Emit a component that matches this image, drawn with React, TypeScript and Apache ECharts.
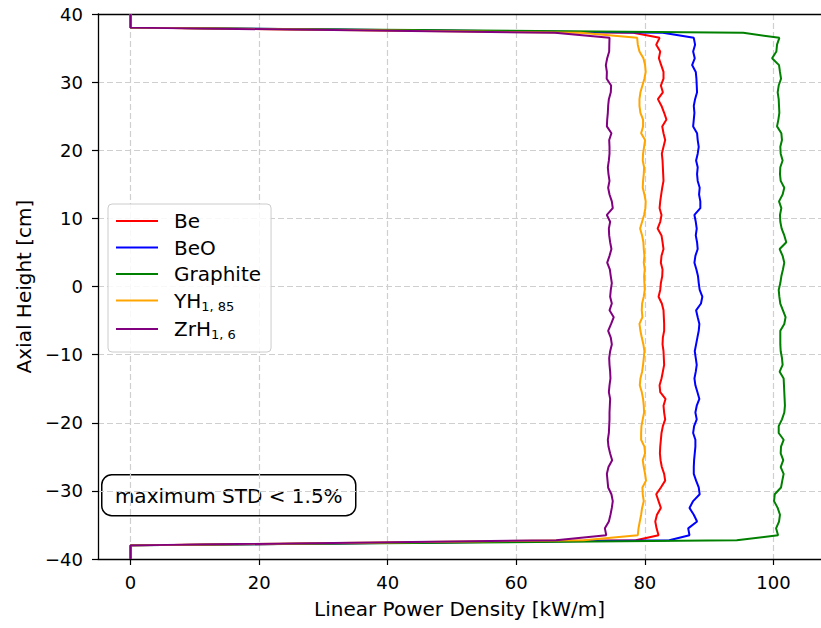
import React, { useEffect, useRef } from "react";
import * as echarts from "echarts";

// Axial mesh (cm), top to bottom
const heights = [
  40, 38, 37.25,
  36.5, 35.5, 34.5, 33.5, 32.5, 31.5, 30.5, 29.5, 28.5, 27.5,
  26.5, 25.5, 24.5, 23.5, 22.5, 21.5, 20.5, 19.5, 18.5, 17.5,
  16.5, 15.5, 14.5, 13.5, 12.5, 11.5, 10.5, 9.5, 8.5, 7.5,
  6.5, 5.5, 4.5, 3.5, 2.5, 1.5, 0.5, -0.5, -1.5, -2.5,
  -3.5, -4.5, -5.5, -6.5, -7.5, -8.5, -9.5, -10.5, -11.5, -12.5,
  -13.5, -14.5, -15.5, -16.5, -17.5, -18.5, -19.5, -20.5, -21.5, -22.5,
  -23.5, -24.5, -25.5, -26.5, -27.5, -28.5, -29.5, -30.5, -31.5, -32.5,
  -33.5, -34.5, -35.5, -36.5,
  -37.25, -38, -40,
];

// Linear power density (kW/m) at each height above
const be = [
  0, 0, 78.2,
  82.29, 81.77, 82.39, 82.18, 82.54, 82.9, 82.9, 82.49, 82.8, 82.03,
  82.59, 83.0, 83.36, 82.7, 82.9, 83.16, 82.9, 82.64, 82.75, 82.8,
  82.85, 82.9, 82.7, 82.54, 82.39, 82.29, 82.59, 82.39, 81.98, 82.59,
  82.75, 82.9, 82.59, 82.49, 82.75, 82.7, 82.49, 82.39, 82.13, 82.64,
  82.9, 82.95, 83.0, 83.0, 82.8, 82.75, 82.9, 82.95, 83.0, 82.8,
  82.59, 82.29, 82.39, 83.21, 82.9, 83.0, 83.16, 82.8, 82.59, 82.49,
  82.39, 82.34, 82.44, 82.64, 83.0, 83.16, 82.49, 81.77, 82.13, 82.49,
  81.88, 81.62, 81.82, 82.13,
  78.6, 0, 0,
];
const beo = [
  0, 0, 82.8,
  87.61, 87.81, 87.51, 87.76, 87.35, 87.92, 88.02, 88.07, 88.12, 87.81,
  87.61, 87.71, 87.61, 87.51, 88.12, 88.22, 88.38, 88.22, 87.97, 88.22,
  88.12, 88.22, 88.53, 88.43, 88.63, 88.63, 87.71, 87.92, 88.07, 87.92,
  88.12, 88.22, 87.86, 87.71, 88.02, 88.27, 88.38, 88.53, 88.94, 88.73,
  87.97, 88.22, 88.48, 88.38, 88.17, 87.97, 87.76, 87.92, 88.07, 87.92,
  87.71, 87.86, 88.17, 88.48, 88.07, 87.86, 88.07, 87.66, 87.51, 87.86,
  87.86, 87.76, 87.66, 87.61, 87.61, 87.97, 88.38, 88.53, 87.51, 86.94,
  87.61, 88.12, 86.74, 86.94,
  83.8, 0, 0,
];
const graphite = [
  0, 0, 95.3,
  100.92, 100.56, 100.46, 99.79, 100.87, 101.02, 101.18, 100.82, 100.66, 100.82,
  100.87, 100.92, 100.77, 100.56, 101.23, 101.33, 101.07, 101.13, 101.43, 101.07,
  101.02, 101.13, 101.69, 101.43, 100.87, 101.23, 101.02, 101.07, 101.28, 101.69,
  102.0, 100.97, 101.43, 101.69, 101.48, 101.23, 101.07, 100.82, 100.92, 101.07,
  101.48, 101.89, 101.69, 101.07, 101.07, 101.07, 101.13, 101.33, 101.43, 100.97,
  101.59, 101.64, 101.69, 101.74, 101.79, 101.69, 101.33, 100.82, 100.82, 101.59,
  101.18, 101.13, 101.53, 101.13, 101.59, 101.38, 101.18, 100.2, 100.1, 100.66,
  101.02, 100.87, 100.41, 100.72,
  94.3, 0, 0,
];
const yh = [
  0, 0, 70.0,
  78.8, 78.9, 79.16, 79.77, 80.03, 80.13, 79.93, 79.62, 79.31, 79.16,
  79.16, 79.31, 79.72, 79.72, 79.42, 80.03, 79.88, 79.72, 79.67, 79.88,
  79.83, 79.72, 79.67, 79.93, 80.13, 80.08, 79.88, 79.57, 79.26, 79.57,
  79.77, 79.83, 79.93, 79.83, 79.98, 79.88, 79.93, 79.98, 79.83, 79.57,
  79.52, 79.62, 79.16, 79.31, 79.52, 79.77, 79.93, 79.83, 79.72, 79.57,
  79.31, 79.21, 79.52, 79.72, 79.83, 79.88, 79.67, 79.47, 79.42, 79.42,
  79.93, 80.03, 79.67, 79.83, 80.03, 80.18, 79.62, 79.67, 79.83, 79.57,
  79.42, 79.21, 79.01, 78.9,
  70.5, 0, 0,
];
const zrh = [
  0, 0, 66.0,
  74.5, 74.47, 74.45, 74.14, 73.93, 74.09, 74.06, 74.75, 74.7, 74.4,
  74.29, 74.24, 74.14, 74.09, 74.8, 74.45, 74.5, 74.5, 74.4, 74.24,
  74.34, 74.5, 74.29, 74.5, 74.86, 75.01, 74.09, 74.6, 74.4, 74.45,
  74.6, 74.8, 74.5, 74.14, 74.55, 74.7, 74.86, 74.7, 74.6, 74.86,
  74.5, 75.16, 74.75, 74.29, 74.7, 74.86, 74.6, 74.45, 74.5, 74.6,
  74.65, 74.5, 74.4, 74.6, 74.55, 74.5, 74.5, 74.45, 74.4, 74.24,
  74.34, 74.6, 74.91, 74.34, 74.09, 74.19, 74.29, 74.8, 75.01, 74.86,
  74.65, 74.4, 73.78, 73.99,
  66.2, 0, 0,
];

const seriesNames = ["Be", "BeO", "Graphite", "YH1,85", "ZrH1,6"];
const seriesColors = ["#ff0000", "#0000ff", "#008000", "#ffa500", "#800080"];
const seriesValues = [be, beo, graphite, yh, zrh];
const legendLabels: Record<string, string> = {
  Be: "{a|Be}",
  BeO: "{a|BeO}",
  Graphite: "{a|Graphite}",
  "YH1,85": "{a|YH}{s|1, 85}",
  "ZrH1,6": "{a|ZrH}{s|1, 6}",
};

const FONT = "DejaVu Sans";
const X_MIN = -5.07;
const X_MAX = 107.4;

export default function App() {
  const ref = useRef<HTMLDivElement>(null);
  useEffect(() => {
    if (!ref.current) return;
    const chart = echarts.init(ref.current, null, { renderer: "svg" });
    const gridLine = { show: true, lineStyle: { color: "#cfcfcf", width: 1.2, type: [6, 3] } };
    const option: any = {
      animation: false,
      backgroundColor: "#ffffff",
      grid: {
        left: 98,
        top: 14,
        bottom: 69,
        right: -9,
      },
      xAxis: [
        {
          type: "value",
          min: X_MIN,
          max: X_MAX,
          splitNumber: 5,
          position: "bottom",
          name: "Linear Power Density [kW/m]",
          nameLocation: "middle",
          nameGap: 40,
          nameTextStyle: { fontFamily: FONT, fontSize: 20, color: "#000" },
          axisLine: { show: true, onZero: false, lineStyle: { color: "#000", width: 1.3 } },
          axisTick: { show: true, inside: false, length: 6, lineStyle: { color: "#000", width: 1.2 } },
          axisLabel: {
            fontFamily: FONT,
            fontSize: 18,
            color: "#000",
            margin: 14,
            showMinLabel: false,
            showMaxLabel: false,
          },
          splitLine: { ...gridLine, showMinLine: false, showMaxLine: false },
        },
        {
          type: "value",
          min: X_MIN,
          max: X_MAX,
          position: "top",
          axisLine: { show: true, onZero: false, lineStyle: { color: "#000", width: 1.3 } },
          axisTick: { show: false },
          axisLabel: { show: false },
          splitLine: { show: false },
        },
      ],
      yAxis: {
        type: "value",
        min: -40,
        max: 40,
        interval: 10,
        name: "Axial Height [cm]",
        nameLocation: "middle",
        nameGap: 64,
        nameTextStyle: { fontFamily: FONT, fontSize: 20, color: "#000" },
        axisLine: { show: true, onZero: false, lineStyle: { color: "#000", width: 1.3 } },
        axisTick: { show: true, inside: false, length: 6, lineStyle: { color: "#000", width: 1.2 } },
        axisLabel: {
          fontFamily: FONT,
          fontSize: 18,
          color: "#000",
          margin: 15,
          formatter: (v: number) => (v < 0 ? "\u2212" + Math.abs(v) : String(v)),
        },
        splitLine: { ...gridLine, showMinLine: false, showMaxLine: false },
      },
      legend: {
        orient: "vertical",
        left: 108,
        top: 204,
        padding: [7, 10, 11, 8],
        itemGap: 6.5,
        itemWidth: 42,
        itemHeight: 14,
        icon: "path://M0,0H42V2H0Z",
        backgroundColor: "rgba(255,255,255,0.85)",
        borderColor: "#cccccc",
        borderWidth: 1,
        borderRadius: 4,
        data: seriesNames.map((name, i) => ({ name, itemStyle: { color: seriesColors[i] } })),
        formatter: (name: string) => legendLabels[name] || name,
        textStyle: {
          fontFamily: FONT,
          fontSize: 20,
          color: "#000",
          rich: {
            a: { fontFamily: FONT, fontSize: 20, color: "#000", lineHeight: 24, padding: [0, 0, 0, 11] },
            s: { fontFamily: FONT, fontSize: 13, color: "#000", lineHeight: 13, verticalAlign: "bottom" },
          },
        },
      },
      graphic: [
        {
          type: "group",
          left: 101,
          top: 474,
          children: [
            {
              type: "rect",
              shape: { x: 0, y: 0, width: 254, height: 41, r: 10 },
              style: { fill: "#ffffff", stroke: "#000000", lineWidth: 1.5 },
            },
            {
              type: "text",
              x: 127,
              y: 21,
              style: {
                text: "maximum STD < 1.5%",
                fontFamily: FONT,
                fontSize: 20,
                fill: "#000",
                align: "center",
                verticalAlign: "middle",
              },
            },
          ],
        },
      ],
      series: seriesNames.map((name, i) => ({
        name,
        type: "line",
        symbol: "none",
        showSymbol: false,
        clip: true,
        lineStyle: { color: seriesColors[i], width: 2 },
        itemStyle: { color: seriesColors[i] },
        data: heights.map((h, j) => [seriesValues[i][j], h]),
      })),
    };
    chart.setOption(option);
    return () => chart.dispose();
  }, []);
  return <div ref={ref} style={{ width: 821, height: 628, position: "absolute", left: 0, top: 0 }} />;
}
